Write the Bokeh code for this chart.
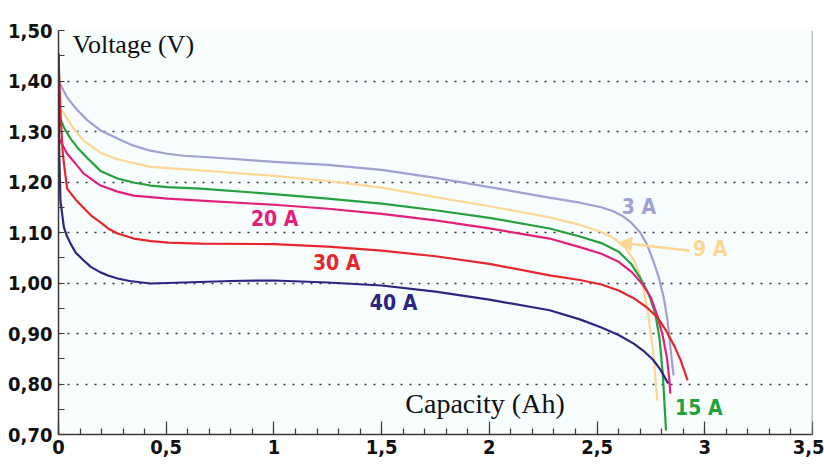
from bokeh.plotting import figure
from bokeh.models import (FixedTicker, Label, Span, Arrow, NormalHead)
from bokeh.embed import file_html
from bokeh.resources import INLINE

# ---------------- data ----------------
x_3A = [0, 0.009, 0.02, 0.042, 0.088, 0.135, 0.195, 0.274, 0.348, 0.427, 0.506, 0.58, 0.66, 0.8, 1.0,
        1.25, 1.5, 1.75, 2.0, 2.25, 2.42, 2.52, 2.58, 2.62, 2.66, 2.70, 2.73, 2.76, 2.786, 2.81,
        2.827, 2.841, 2.855]
v_3A = [1.400, 1.393, 1.384, 1.366, 1.342, 1.322, 1.302, 1.286, 1.272, 1.262, 1.256, 1.252, 1.250, 1.246, 1.240,
        1.234, 1.224, 1.208, 1.190, 1.171, 1.159, 1.150, 1.141, 1.132, 1.119, 1.100, 1.078, 1.045, 1.012, 0.970,
        0.926, 0.870, 0.817]

x_9A = [0, 0.025, 0.07, 0.116, 0.195, 0.274, 0.427, 0.66, 1.0, 1.25, 1.5, 1.75, 2.0, 2.28,
        2.42, 2.52, 2.58, 2.63, 2.67, 2.70, 2.72, 2.74, 2.76, 2.78]
v_9A = [1.348, 1.336, 1.306, 1.282, 1.258, 1.245, 1.230, 1.223, 1.212, 1.202, 1.189, 1.170, 1.152, 1.130,
        1.115, 1.101, 1.088, 1.070, 1.046, 1.015, 0.978, 0.930, 0.866, 0.767]

x_15A = [0, 0.025, 0.056, 0.088, 0.135, 0.195, 0.274, 0.348, 0.427, 0.506, 0.66, 1.0, 1.25, 1.5, 1.75, 2.0, 2.28,
         2.42, 2.52, 2.6, 2.66, 2.70, 2.74, 2.77, 2.79, 2.805, 2.82]
v_15A = [1.335, 1.308, 1.286, 1.268, 1.247, 1.222, 1.207, 1.199, 1.193, 1.190, 1.187, 1.176, 1.167, 1.157, 1.144, 1.129,
         1.108, 1.092, 1.079, 1.062, 1.037, 1.010, 0.978, 0.940, 0.890, 0.820, 0.708]

x_20A = [0, 0.02, 0.04, 0.08, 0.116, 0.195, 0.274, 0.348, 0.506, 0.66, 1.0, 1.25, 1.5, 1.75, 2.0, 2.28,
         2.42, 2.52, 2.6, 2.66, 2.71, 2.75, 2.78, 2.805, 2.825, 2.835, 2.84]
v_20A = [1.288, 1.272, 1.256, 1.236, 1.217, 1.193, 1.181, 1.173, 1.167, 1.163, 1.155, 1.147, 1.137, 1.124, 1.108, 1.088,
         1.071, 1.058, 1.042, 1.022, 0.998, 0.971, 0.935, 0.895, 0.850, 0.810, 0.781]

x_30A = [0, 0.01, 0.02, 0.04, 0.08, 0.116, 0.15, 0.195, 0.23, 0.274, 0.35, 0.43, 0.51, 0.66, 1.0, 1.25, 1.5,
         1.75, 2.0, 2.28, 2.42, 2.52, 2.6, 2.67, 2.73, 2.78, 2.82, 2.86, 2.89, 2.92]
v_30A = [1.450, 1.330, 1.255, 1.187, 1.165, 1.149, 1.134, 1.120, 1.108, 1.098, 1.088, 1.083, 1.080, 1.078, 1.077,
         1.072, 1.064, 1.053, 1.038, 1.015, 1.006, 0.997, 0.985, 0.970, 0.952, 0.932, 0.906, 0.874, 0.845, 0.807]

x_40A = [0, 0.003, 0.009, 0.025, 0.04, 0.056, 0.08, 0.116, 0.15, 0.195, 0.23, 0.274, 0.33, 0.427, 0.58, 0.8,
         1.0, 1.25, 1.5, 1.75, 2.0, 2.28, 2.42, 2.52, 2.6, 2.67, 2.72, 2.76, 2.795, 2.83]
v_40A = [1.455, 1.260, 1.163, 1.110, 1.092, 1.078, 1.060, 1.045, 1.032, 1.021, 1.015, 1.009, 1.004, 0.999, 1.001, 1.004,
         1.005, 1.001, 0.995, 0.983, 0.967, 0.946, 0.928, 0.912, 0.897, 0.880, 0.864, 0.848, 0.828, 0.801]

series_names = ["3 A", "9 A", "15 A", "20 A", "30 A", "40 A"]
series_x = [x_3A, x_9A, x_15A, x_20A, x_30A, x_40A]
series_v = [v_3A, v_9A, v_15A, v_20A, v_30A, v_40A]

x_ticks = [0, 0.5, 1, 1.5, 2, 2.5, 3, 3.5]
x_tick_labels = ["0", "0,5", "1", "1,5", "2", "2,5", "3", "3,5"]
y_ticks = [0.7, 0.8, 0.9, 1.0, 1.1, 1.2, 1.3, 1.4, 1.5]
y_tick_labels = ["0,70", "0,80", "0,90", "1,00", "1,10", "1,20", "1,30", "1,40", "1,50"]

# ---------------- styling ----------------
colors = ["#a0a0d0", "#fdd694", "#24a03c", "#e2207b", "#e6262c", "#2c2680"]
label_pos = [(2.615, 1.150), (2.945, 1.068), (2.862, 0.752), (0.893, 1.126), (1.181, 1.039), (1.445, 0.961)]
COND = "DejaVu Sans Condensed"

p = figure(width=824, height=466, x_range=(0, 3.5), y_range=(0.7, 1.5),
           output_backend="svg", toolbar_location=None,
           min_border_left=58, min_border_right=12, min_border_top=30, min_border_bottom=32)
p.background_fill_color = "#f7fcfd"
p.border_fill_color = "white"
p.outline_line_color = None

for xs, vs, c in zip(series_x, series_v, colors):
    p.line(xs, vs, line_color=c, line_width=2.2, line_join="round")

# axes
p.xaxis.ticker = FixedTicker(ticks=x_ticks, minor_ticks=[i / 10 for i in range(36)])
p.xaxis.major_label_overrides = {t: l for t, l in zip(x_ticks, x_tick_labels)}
p.yaxis.ticker = FixedTicker(ticks=y_ticks, minor_ticks=[0.75 + i / 10 for i in range(8)])
p.yaxis.major_label_overrides = {t: l for t, l in zip(y_ticks, y_tick_labels)}

for ax in (p.xaxis, p.yaxis):
    ax.axis_line_color = "#3a3a3a"
    ax.axis_line_width = 1.5
    ax.major_tick_line_color = "#3a3a3a"
    ax.minor_tick_line_color = "#3a3a3a"
    ax.major_tick_line_width = 1.2
    ax.minor_tick_line_width = 1.2
    ax.major_tick_out = 0
    ax.minor_tick_out = 0
    ax.major_label_text_font = COND
    ax.major_label_text_font_size = "20px"
    ax.major_label_text_font_style = "bold"
    ax.major_label_text_color = "#111111"
p.xaxis.major_tick_in = 13
p.xaxis.minor_tick_in = 6
p.yaxis.major_tick_in = 6
p.yaxis.minor_tick_in = 6
p.xaxis.major_label_standoff = 5
p.yaxis.major_label_standoff = 6

p.xgrid.visible = False
p.ygrid.ticker = FixedTicker(ticks=y_ticks[1:])
p.ygrid.grid_line_color = "#333333"
p.ygrid.grid_line_width = 1.4
p.ygrid.grid_line_dash = "2 7"

p.add_layout(Span(location=3.5, dimension="height", line_color="#888888", line_width=1.5))

# axis titles
p.add_layout(Label(x=0.065, y=1.472, text="Voltage (V)", text_font="Liberation Serif",
                   text_font_size="26px", text_baseline="middle", text_color="#111111"))
p.add_layout(Label(x=1.61, y=0.762, text="Capacity (Ah)", text_font="Liberation Serif",
                   text_font_size="28px", text_baseline="middle", text_color="#111111"))

# series labels
for name, (lx, ly), c in zip(series_names, label_pos, colors):
    p.add_layout(Label(x=lx, y=ly, text=name, text_font=COND, text_font_size="21px",
                       text_font_style="bold", text_color=c, text_baseline="middle"))

# arrow for 9 A
p.add_layout(Arrow(x_start=2.93, y_start=1.064, x_end=2.6, y_end=1.08,
                   line_color=colors[1], line_width=2.5,
                   end=NormalHead(size=13, fill_color=colors[1], line_color=colors[1])))

open("out.html", "w").write(file_html(p, INLINE))
